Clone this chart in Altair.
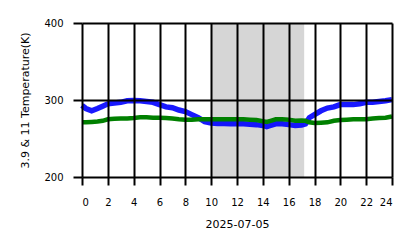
import altair as alt
import pandas as pd

hours = [0, 0.3, 0.75, 1.2, 1.6, 2.0, 2.5, 3.0, 3.5, 4.0, 4.5, 5.0, 5.5, 6.0, 6.5,
         7.0, 7.5, 8.0, 8.5, 9.0, 9.5, 10.0, 10.5, 11.0, 11.5, 12.0, 12.5, 13.0,
         13.5, 14.0, 14.3, 14.6, 15.0, 15.5, 16.0, 16.5, 17.0, 17.3, 17.6, 18.0,
         18.5, 19.0, 19.5, 20.0, 20.5, 21.0, 21.5, 22.0, 22.5, 23.0, 23.5, 24.0]
temp_blue = [293, 289, 286, 289, 292, 295, 296, 297, 299, 299.5, 299, 298, 297, 294,
             291, 290, 287, 285, 281, 277, 272, 270, 269.5, 269.5, 269, 269, 269,
             268.5, 268, 267, 265.5, 267, 269, 269, 268, 267, 267.5, 269, 277, 281,
             286, 289.5, 291, 294, 294, 294, 295, 297, 297, 298, 299, 300.5]
temp_green = [271, 271, 271.5, 272, 273, 275, 275.5, 276, 276, 276.5, 277.5, 277.5,
              277, 277, 276.5, 276, 275, 274.5, 274.5, 275, 275, 275, 275, 275, 275,
              275, 275, 274.5, 274, 272.5, 271.5, 273, 275, 275, 274.5, 273, 273.5,
              273, 271, 270, 270.5, 271, 273, 274, 274.5, 275, 275, 275, 276, 276.5,
              277, 278.5]
shade_start = [10.0]
shade_end = [17.2]
x_ticks = list(range(0, 25, 2))
y_ticks = [200, 300, 400]

df = pd.DataFrame({"hour": hours, "blue": temp_blue, "green": temp_green})
shade = pd.DataFrame({"start": shade_start, "end": shade_end})

FONT = "DejaVu Sans"

xaxis = alt.Axis(values=x_ticks, title="2025-07-05", grid=True, gridColor="black",
                 gridWidth=2, gridOpacity=1, domain=False, tickColor="black",
                 tickWidth=2, tickSize=8, labelFontSize=10, titleFontSize=11,
                 labelPadding=12, titlePadding=11, labelFont=FONT, titleFont=FONT,
                 titleFontWeight="normal", labelColor="black", titleColor="black",
                 zindex=1)
yaxis = alt.Axis(values=y_ticks, title="3.9 & 11 Temperature(K)", grid=True,
                 gridColor="black", gridWidth=2, gridOpacity=1, domain=False,
                 tickColor="black", tickWidth=2, tickSize=9, labelFontSize=10,
                 titleFontSize=11, labelPadding=10, titlePadding=13, labelFont=FONT,
                 titleFont=FONT, titleFontWeight="normal", labelColor="black",
                 titleColor="black", zindex=1)

xs = alt.Scale(domain=[0, 24], nice=False)
ys = alt.Scale(domain=[200, 400], nice=False)

rect = alt.Chart(shade).mark_rect(color="#d6d6d6").encode(
    x=alt.X("start:Q", scale=xs, axis=xaxis),
    x2="end:Q",
    y=alt.value(0),
    y2=alt.value(154),
)

blue = alt.Chart(df).mark_line(color="#0000ff", strokeWidth=5.5, opacity=0.9).encode(
    x=alt.X("hour:Q", scale=xs, axis=xaxis),
    y=alt.Y("blue:Q", scale=ys, axis=yaxis),
)
green = alt.Chart(df).mark_line(color="#008000", strokeWidth=4.5).encode(
    x=alt.X("hour:Q", scale=xs, axis=xaxis),
    y=alt.Y("green:Q", scale=ys, axis=yaxis),
)

chart = alt.layer(rect, blue, green).properties(
    width=310, height=154,
    autosize=alt.AutoSizeParams(type="none"),
    padding={"left": 82, "top": 23, "right": 26, "bottom": 71},
    background="white",
).configure_view(strokeWidth=0)

chart.save("out.html", embed_options={"renderer": "svg", "actions": False})
